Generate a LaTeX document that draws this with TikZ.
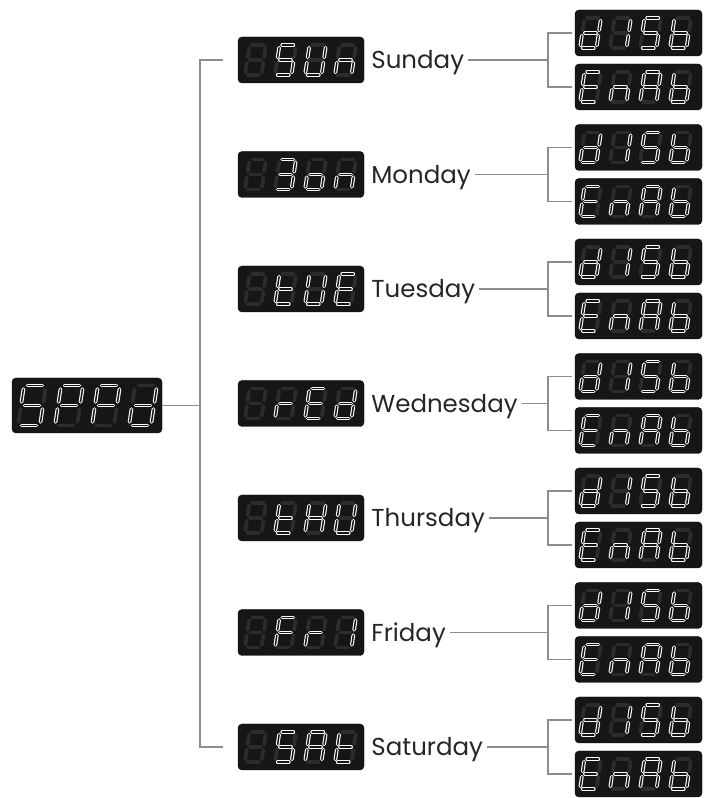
\documentclass[tikz,border=0pt]{standalone}
\usepackage{fontspec}
\setmainfont{Poppins}
\usepackage{tikz}
\usetikzlibrary{positioning}
\usepackage{xcolor}

\definecolor{wirecol}{HTML}{8C8C8C}
\definecolor{panel}{HTML}{161616}
\definecolor{segdim}{HTML}{2C2C2C}
\definecolor{ink}{HTML}{262626}

% segmentos de um digito (altura 1, largura 0.55)
\tikzset{
  seg a/.style={insert path={(0.09,1)--(0.46,1)}},
  seg b/.style={insert path={(0.55,0.91)--(0.55,0.59)}},
  seg c/.style={insert path={(0.55,0.41)--(0.55,0.09)}},
  seg d/.style={insert path={(0.09,0)--(0.46,0)}},
  seg e/.style={insert path={(0,0.09)--(0,0.41)}},
  seg f/.style={insert path={(0,0.59)--(0,0.91)}},
  seg g/.style={insert path={(0.09,0.5)--(0.46,0.5)}},
  seg x/.style={},
  display/.style={draw=black, fill=panel, rounded corners=4pt, inner sep=0pt},
  segon/.style={draw=white, line width=1.1pt, double=panel, double distance=1.5pt, line cap=round},
  segoff/.style={draw=segdim, line width=3.7pt, line cap=round},
  wire/.style={draw=wirecol, line width=1.4pt},
  daylabel/.style={text=ink, font=\fontsize{24.5}{28}\selectfont, inner xsep=4pt, text height=18pt, text depth=0pt}
}

% caracteres do visor
\newcommand{\defsym}[2]{\expandafter\def\csname sym@#1\endcsname{#2}}
\defsym{S}{a,f,g,c,d}
\defsym{P}{a,b,f,g,e}
\defsym{d}{b,c,d,e,g}
\defsym{U}{b,c,d,e,f}
\defsym{n}{c,e,g}
\defsym{3}{a,b,g,c,d}
\defsym{o}{c,d,e,g}
\defsym{t}{d,e,f,g}
\defsym{E}{a,d,e,f,g}
\defsym{r}{e,g}
\defsym{H}{b,c,e,f,g}
\defsym{F}{a,e,f,g}
\defsym{1}{b,c}
\defsym{I}{b,c}
\defsym{A}{a,b,c,e,f,g}
\defsym{b}{c,d,e,f,g}
\defsym{off}{x}

% digito: no, deslocamento x, altura, caractere
\newcommand{\glyph}[4]{%
  \expandafter\let\expandafter\seglist\csname sym@#4\endcsname
  \begin{scope}[shift={(#1.center)}, shift={(#2,-#3/2)}, scale=#3, xslant=0.15]
    \foreach \s in {a,b,c,d,e,f,g} \draw[segoff, seg \s];
    \foreach \s in \seglist \draw[segon, seg \s];
  \end{scope}}

\begin{document}
\begin{tikzpicture}[x=1pt, y=1pt]
    \useasboundingbox (0,0) rectangle (709,798);
    % Visor principal
    \node[display, minimum width=150pt, minimum height=55pt] (spp) at (87,392.5) {};
    \foreach \k/\sym in {0/S,1/P,2/P,3/d} \glyph{spp}{-69+37*\k}{40}{\sym};
    \coordinate (trunk) at (200,392.5);
    \draw[wire] (spp.east) -- (trunk);
    % Dias da semana
    \foreach \i/\day/\ca/\cb/\cc in {0/Sunday/S/U/n, 1/Monday/3/o/n, 2/Tuesday/t/U/E,
        3/Wednesday/r/E/d, 4/Thursday/t/H/U, 5/Friday/F/r/1, 6/Saturday/S/A/t}{
      \pgfmathsetmacro\rowy{738-114.5*\i}
      \node[display, minimum width=126pt, minimum height=46pt] (day\i) at (301,\rowy) {};
      \glyph{day\i}{-56}{30}{off}
      \glyph{day\i}{-26}{30}{\ca}
      \glyph{day\i}{4}{30}{\cb}
      \glyph{day\i}{34}{30}{\cc}
      \node[daylabel, right=3pt of day\i] (lbl\i) {\day};
      % opcoes
      \node[display, minimum width=127pt, minimum height=46pt] (dis\i) at (638.5,\rowy+27) {};
      \node[display, minimum width=127pt, minimum height=46pt] (ena\i) at (638.5,\rowy-27) {};
      \foreach \k/\sym in {0/d,1/I,2/S,3/b} \glyph{dis\i}{-58.5+30*\k}{30}{\sym};
      \foreach \k/\sym in {0/E,1/n,2/A,3/b} \glyph{ena\i}{-58.5+30*\k}{30}{\sym};
      \coordinate (fork\i) at (548,\rowy);
      \draw[wire] (lbl\i.east |- fork\i) -- (fork\i);
      \draw[wire] ([xshift=-3pt]dis\i.west) -| (fork\i) |- ([xshift=-3pt]ena\i.west);
    }
    \draw[wire] ([xshift=-15pt]day0.west) -| (trunk) |- ([xshift=-15pt]day6.west);
\end{tikzpicture}
\end{document}
